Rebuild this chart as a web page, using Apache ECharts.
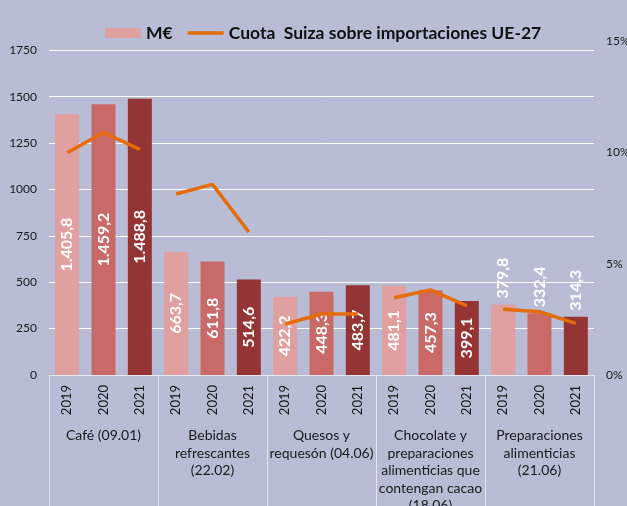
<!DOCTYPE html>
<html>
<head>
<meta charset="utf-8">
<script src="https://cdn.jsdelivr.net/npm/echarts@6/dist/echarts.min.js"></script>
<style>
  html, body { margin: 0; padding: 0; background: #b8bcd4; }
  #chart { width: 627px; height: 506px; }
</style>
</head>
<body>
<div id="chart"></div>
<script>
// datos
const years = ["2019", "2020", "2021"];
const groups = [
  "Café (09.01)",
  "Bebidas\nrefrescantes\n(22.02)",
  "Quesos y\nrequesón (04.06)",
  "Chocolate y\npreparaciones\nalimenticias que\ncontengan cacao\n(18.06)",
  "Preparaciones\nalimenticias\n(21.06)"
];
const valoresMEur = [
  1405.8, 1459.2, 1488.8,
  663.7, 611.8, 514.6,
  422.2, 448.3, 483.7,
  481.1, 457.3, 399.1,
  379.8, 332.4, 314.3
];
const cuotaSuiza = [
  9.98, 10.89, 10.13,
  8.13, 8.56, 6.42,
  2.29, 2.74, 2.74,
  3.47, 3.82, 3.10,
  2.95, 2.84, 2.32
];
const leftTicks = { max: 1800, interval: 250 };
const rightTicks = { max: 15, interval: 5 };

const barColors = ["#e0a09f", "#c96a69", "#943434"];
const lineColor = "#e46c0a";
const textColor = "#1a1a1a";
const font = "Lato";
const lineName = "Cuota  Suiza sobre importaciones UE-27";

// categorías del eje: año por cada grupo
const categories = [];
groups.forEach(() => years.forEach(y => categories.push(y)));

// formato español 1.405,8
function fmt(v) {
  const parts = v.toFixed(1).split(".");
  const ent = parts[0].replace(/\B(?=(\d{3})+(?!\d))/g, ".");
  return ent + "," + parts[1];
}

const lastGroup = groups.length - 1;
const barData = valoresMEur.map((v, i) => {
  const item = { value: v, itemStyle: { color: barColors[i % 3] } };
  if (Math.floor(i / 3) === lastGroup) {
    // etiqueta encima de la barra
    item.label = { position: [12, -6], align: "left", verticalAlign: "middle" };
  }
  return item;
});

// una serie de línea por grupo (la línea se corta entre grupos)
const lineSeries = groups.map((g, gi) => ({
  name: lineName,
  type: "line",
  xAxisIndex: 0,
  yAxisIndex: 1,
  symbol: "none",
  lineStyle: { color: lineColor, width: 3.5 },
  itemStyle: { color: lineColor },
  data: cuotaSuiza.map((v, i) => (Math.floor(i / 3) === gi ? v : "-")),
  z: 5
}));

const chart = echarts.init(document.getElementById("chart"));
chart.setOption({
  backgroundColor: "#b8bcd4",
  animation: false,
  textStyle: { fontFamily: font },
  legend: {
    top: 19,
    left: 100,
    itemWidth: 36,
    itemHeight: 10,
    itemGap: 15,
    textStyle: { fontFamily: font, fontWeight: "bold", fontSize: 17.5, color: "#111" },
    data: [
      { name: "M€", icon: "rect" },
      { name: lineName, icon: "path://M0,0L40,0L40,4L0,4Z" }
    ]
  },
  grid: { left: 49, right: 33, top: 41, bottom: 131, outerBoundsMode: "none" },
  xAxis: [
    {
      type: "category",
      data: categories,
      axisLine: { lineStyle: { color: "#e6e6ee", width: 1 } },
      axisTick: { show: false },
      axisLabel: { interval: 0, rotate: 90, margin: 10, fontSize: 13, color: textColor, fontFamily: font }
    },
    {
      type: "category",
      position: "bottom",
      data: groups,
      axisLine: { show: false },
      axisTick: { show: true, length: 135, lineStyle: { color: "#e6e6ee", width: 1 } },
      axisLabel: { interval: 0, margin: 52, fontSize: 14, lineHeight: 17.5, color: textColor, fontFamily: font }
    }
  ],
  yAxis: [
    {
      type: "value",
      min: 0,
      max: leftTicks.max,
      interval: leftTicks.interval,
      axisLine: { show: false },
      axisTick: { show: false },
      axisLabel: {
        showMaxLabel: false,
        margin: 12,
        fontSize: 12,
        color: textColor,
        fontFamily: font,
        formatter: v => String(v)
      },
      splitLine: {
        lineStyle: {
          color: ["#ffffff", "#ffffff", "#ffffff", "#ffffff", "#ffffff", "#ffffff", "#ffffff", "#ffffff", "rgba(0,0,0,0)"],
          width: 1
        }
      }
    },
    {
      type: "value",
      min: 0,
      max: rightTicks.max,
      interval: rightTicks.interval,
      position: "right",
      axisLine: { show: false },
      axisTick: { show: false },
      splitLine: { show: false },
      axisLabel: { formatter: "{value}%", margin: 12, fontSize: 12, color: textColor, fontFamily: font }
    }
  ],
  series: [
    {
      name: "M€",
      type: "bar",
      barWidth: 24,
      itemStyle: { color: barColors[0] },
      label: {
        show: true,
        position: "inside",
        rotate: 90,
        color: "#ffffff",
        fontSize: 16,
        fontWeight: "bold",
        fontFamily: font,
        formatter: p => fmt(p.value)
      },
      data: barData,
      z: 2
    }
  ].concat(lineSeries)
});
</script>
</body>
</html>
